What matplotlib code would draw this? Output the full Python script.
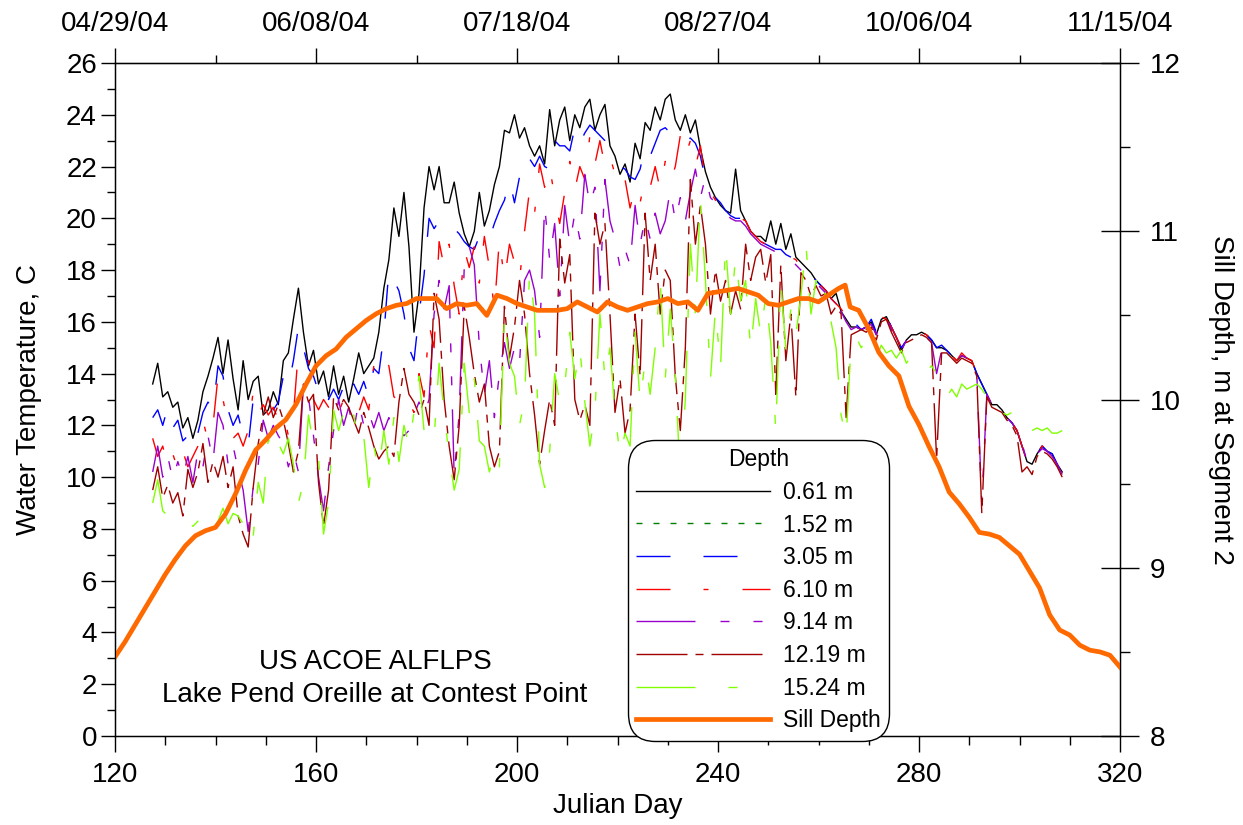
import matplotlib
matplotlib.use("Agg")
import matplotlib.pyplot as plt
import numpy as np
from matplotlib.ticker import MultipleLocator, FixedLocator

# ---------------- data ----------------
day_start = 127.5  # first sample (Julian day), 1-day spacing

t_061 = [13.6, 14.4, 13.1, 13.3, 12.7, 12.9, 11.9, 12.3, 11.5, 12.2,
         13.3, 13.9, 14.6, 15.4, 14.0, 15.3, 13.8, 12.6, 14.5, 13.0,
         13.7, 13.9, 12.4, 12.6, 13.3, 12.8, 14.5, 14.8, 16.1, 17.3,
         15.6, 14.3, 14.9, 13.6, 14.1, 13.1, 14.3, 13.2, 13.9, 12.9,
         13.8, 14.8, 14.0, 14.3, 14.6, 15.6, 17.3, 18.4, 20.4, 19.3,
         21.0, 18.9, 15.6, 17.1, 20.4, 22.0, 21.1, 22.0, 20.6, 20.6,
         21.4, 20.2, 19.4, 18.9, 19.5, 21.0, 19.7, 20.3, 21.3, 22.0,
         23.4, 23.3, 24.0, 23.1, 23.5, 22.8, 22.4, 22.8, 22.1, 24.2,
         22.8, 23.8, 24.3, 23.0, 24.0, 23.5, 24.3, 24.6, 23.4, 24.0,
         24.4, 22.8, 22.4, 21.7, 22.1, 21.4, 22.9, 22.3, 23.7, 23.4,
         24.3, 23.8, 24.6, 24.8, 23.8, 23.4, 24.0, 23.3, 23.8, 22.7,
         21.8, 21.2, 20.8, 20.5, 20.3, 20.2, 21.9, 20.3, 19.9, 19.5,
         19.3, 19.3, 19.1, 19.9, 19.0, 19.8, 18.8, 19.4, 18.5, 18.3,
         18.1, 17.9, 17.6, 17.4, 17.2, 16.9, 17.1, 16.4, 16.1, 15.8,
         15.8, 15.7, 15.8, 16.0, 15.5, 16.1, 16.2, 15.8, 15.4, 14.9,
         15.3, 15.5, 15.5, 15.6, 15.5, 15.3, 15.0, 15.0, 14.9, 14.7,
         14.5, 14.7, 14.6, 14.5, 14.0, 13.6, 13.2, 12.8, 12.8, 12.6,
         12.3, 12.1, 11.8, 11.2, 10.6, 10.5, 10.9, 11.2, 11.0, 10.9,
         10.5, 10.2]

t_152 = []  # no 1.52 m record plotted

t_305 = [12.3, 12.6, 12.0, 12.7, 11.9, 12.2, 11.4, 11.6, 11.1, 11.7,
         12.5, 12.9, 12.6, 14.3, 13.9, 12.6, 12.0, 12.4, 11.6, 11.2,
         13.0, 12.8, 12.7, 12.9, 12.6, 12.9, 13.9, 13.5, 14.5, 15.8,
         15.0, 14.2, 13.9, 13.3, 13.6, 13.0, 13.4, 13.0, 13.5, 13.0,
         13.6, 13.2, 13.7, 13.1, 14.2, 14.0, 15.5, 18.0, 17.6, 17.2,
         16.3, 15.0, 14.5, 16.3, 17.8, 20.0, 19.6, 19.9, 19.7, 19.9,
         19.6, 19.4, 19.1, 18.9, 18.8, 19.3, 19.0, 19.2, 19.8, 20.3,
         20.7, 21.5, 20.6, 21.6, 22.5, 22.3, 22.0, 22.4, 22.0, 21.9,
         23.0, 22.8, 22.8, 22.6, 23.5, 22.9, 23.3, 23.6, 23.4, 23.2,
         23.0, 22.6, 22.4, 22.0, 21.9, 21.6, 21.5, 21.9, 22.8, 22.4,
         22.9, 23.4, 23.5, 23.3, 23.2, 23.4, 23.0, 23.1, 22.9, 22.4,
         21.5, 21.0, 20.8, 20.6, 20.3, 20.1, 20.0, 20.0, 19.9, 19.5,
         19.3, 19.1, 19.0, 18.9, 18.8, 18.8, 18.6, 18.5, 18.4, 18.1,
         18.0, 17.8, 17.6, 17.4, 17.2, 16.9, 16.7, 16.5, 16.2, 15.8,
         15.9, 15.7, 15.8, 16.1, 15.6, 16.2, 16.3, 15.8, 15.4, 15.0,
         15.3, 15.6, 15.5, 15.7, 15.5, 15.3, 15.0, 15.1, 14.9, 14.7,
         14.6, 14.8, 14.6, 14.5, 14.0, 13.6, 13.2, 12.8, 12.8, 12.6,
         12.3, 12.1, 11.8, 11.2, 10.7, 10.5, 10.9, 11.2, 11.0, 10.9,
         10.5, 10.1]

t_610 = [11.5, 10.8, 11.2, 10.4, 10.9, 10.3, 11.0, 10.4, 10.8, 11.2,
         12.2, 11.4, 12.0, 13.9, 13.0, 12.0, 11.5, 11.7, 11.2, 11.8,
         13.3, 12.4, 12.8, 12.4, 12.7, 12.2, 12.5, 11.6, 12.4, 14.9,
         14.6, 14.5, 13.0, 12.6, 13.0, 12.7, 13.1, 12.5, 13.0, 12.8,
         13.0, 12.5, 13.1, 12.6, 14.3, 14.0, 14.6, 14.3, 13.1, 13.0,
         12.6, 12.9, 12.5, 14.0, 13.1, 15.9, 15.0, 19.1, 18.1, 19.0,
         17.4, 16.3, 18.8, 18.1, 18.9, 17.5, 19.3, 18.1, 16.5, 19.2,
         17.6, 19.0, 18.3, 17.6, 19.5, 21.1, 20.2, 22.1, 21.2, 22.0,
         20.8, 19.8, 21.0, 22.2, 21.1, 22.0, 21.5, 23.2, 22.1, 23.0,
         22.0, 22.4, 21.7, 21.1, 21.5, 20.4, 21.2, 20.6, 21.6, 21.2,
         22.0, 21.1, 22.2, 21.4, 22.0, 23.2, 22.4, 23.0, 22.0, 22.8,
         21.4, 21.0, 20.7, 20.5, 20.3, 20.1, 20.0, 20.0, 19.9, 19.5,
         19.3, 19.1, 19.0, 18.9, 18.8, 18.8, 18.6, 18.5, 18.4, 18.1,
         18.0, 17.8, 17.6, 17.4, 17.2, 16.9, 16.7, 16.5, 16.2, 15.8,
         15.8, 15.8, 15.7, 16.0, 15.6, 16.2, 16.1, 15.8, 15.4, 15.0,
         15.3, 15.5, 15.6, 15.6, 15.5, 15.3, 15.0, 15.0, 14.9, 14.7,
         14.5, 14.8, 14.6, 14.5, 14.0, 13.6, 13.2, 12.8, 12.8, 12.6,
         12.3, 12.1, 11.8, 11.2, 10.6, 10.4, 10.9, 11.2, 11.1, 10.9,
         10.6, 10.2]

t_914 = [10.2, 11.2, 10.0, 10.8, 9.9, 10.6, 10.0, 10.8, 9.8, 11.0,
         10.4, 11.6, 10.6, 12.5, 12.0, 10.5, 11.2, 10.3, 9.5, 7.9,
         9.6, 10.5, 12.2, 11.5, 12.0, 11.6, 11.3, 10.4, 11.0, 10.2,
         13.6, 13.1, 11.6, 10.0, 8.7, 10.4, 11.8, 13.0, 12.0, 12.7,
         11.8, 12.9, 12.0, 12.5, 11.9, 12.5, 11.8, 12.3, 11.7, 11.8,
         11.6, 11.8, 12.4, 12.9, 12.4, 13.0, 16.3, 17.6, 16.5, 17.4,
         10.0, 12.5, 18.1, 18.9, 18.2, 15.1, 13.2, 14.5, 12.3, 14.0,
         15.2, 14.2, 15.0, 14.4, 17.6, 18.0, 17.2, 15.4, 20.5, 18.4,
         19.8, 17.0, 20.5, 19.0, 20.2, 19.2, 21.7, 20.5, 21.2, 17.2,
         21.5, 19.9, 19.2, 18.1, 18.8, 18.2, 20.5, 19.0, 20.0, 19.2,
         20.2, 19.4, 19.9, 21.1, 19.9, 20.8, 19.9, 21.0, 21.9, 20.8,
         21.6, 20.8, 20.6, 20.4, 20.2, 20.0, 19.9, 19.9, 19.7, 19.4,
         19.2, 19.0, 18.9, 18.8, 18.7, 18.7, 18.5, 18.4, 18.2, 18.0,
         17.9, 17.7, 17.5, 17.3, 17.1, 16.8, 16.6, 16.4, 16.0, 15.7,
         15.8, 15.7, 15.8, 15.9, 15.5, 16.1, 16.2, 15.7, 15.4, 14.9,
         15.3, 15.5, 15.5, 15.5, 15.4, 15.2, 14.0, 14.9, 14.8, 14.7,
         14.5, 14.7, 14.6, 14.4, 14.0, 9.0, 13.2, 12.8, 12.7, 12.6,
         12.3, 12.1, 11.8, 11.3, 10.6, 10.5, 10.9, 11.1, 11.0, 10.8,
         10.5, 10.1]

t_1219 = [9.5, 10.4, 9.2, 9.7, 9.0, 9.4, 8.5, 10.3, 9.6, 10.2,
          11.3, 9.8, 10.6, 10.0, 10.8, 9.6, 10.4, 8.5, 7.8, 7.3,
          9.6, 11.3, 12.4, 13.1, 12.3, 12.8, 12.2, 11.3, 10.2, 11.0,
          13.6, 12.9, 13.2, 9.8, 8.1, 9.5, 13.1, 12.6, 13.0, 12.7,
          12.2, 11.7, 12.5, 11.9, 11.2, 10.7, 11.0, 11.2, 10.8, 12.9,
          14.2, 13.2, 12.9, 12.4, 13.0, 12.0, 17.1, 16.1, 13.0, 11.2,
          9.9, 12.0, 16.6, 15.4, 14.0, 12.9, 13.6, 11.2, 10.4, 11.0,
          16.6, 14.6, 15.8, 17.6, 16.3, 14.0, 12.4, 10.5, 11.8, 13.0,
          12.0, 19.2, 17.5, 18.6, 13.0, 12.2, 12.8, 12.0, 20.2, 19.0,
          19.8, 16.3, 12.5, 13.8, 11.7, 12.6, 16.3, 13.9, 20.2, 17.6,
          19.0, 16.3, 18.0, 17.6, 13.9, 11.8, 15.0, 21.5, 19.0, 20.5,
          19.0, 16.3, 18.0, 16.8, 17.6, 16.3, 17.2, 16.5, 19.0, 17.6,
          18.5, 18.8, 17.5, 18.6, 13.2, 18.2, 14.5, 16.3, 13.1, 17.9,
          17.6, 17.0, 17.4, 17.0, 17.1, 16.3, 16.6, 16.3, 12.3, 15.5,
          15.6, 15.7, 15.6, 15.8, 15.3, 16.0, 16.1, 15.6, 15.2, 14.8,
          15.2, 15.3, 15.4, 15.5, 15.4, 15.2, 10.7, 14.8, 14.8, 14.6,
          14.4, 14.6, 14.5, 14.4, 13.9, 8.6, 13.1, 12.7, 12.6, 12.5,
          12.2, 12.0, 11.6, 10.2, 10.4, 10.1, 10.8, 11.0, 10.9, 10.7,
          10.4, 10.0]

t_1524 = [9.0, 9.9, 8.7, 8.5, 8.3, 8.3, 8.2, 8.3, 8.1, 8.3,
          8.1, 8.4, 8.0, 8.3, 8.8, 8.2, 8.6, 8.5, 8.2, 7.4,
          7.7, 9.8, 9.0, 11.5, 10.8, 11.3, 10.9, 11.5, 10.5, 9.0,
          9.8, 12.4, 11.2, 10.8, 7.8, 9.0, 12.6, 11.8, 12.5, 11.9,
          12.4, 11.3, 11.6, 9.6, 11.2, 10.3, 11.8, 10.5, 12.3, 10.6,
          12.0, 11.2, 12.5, 13.9, 11.8, 12.0, 11.5, 14.4, 12.5, 10.8,
          9.5, 10.3, 14.4, 12.5, 13.8, 11.4, 11.2, 10.2, 11.0, 10.4,
          16.3, 14.4, 13.9, 12.0, 13.0, 17.9, 16.3, 10.5, 9.6, 11.0,
          14.0, 12.9, 13.5, 15.6, 13.8, 15.0, 12.9, 11.2, 12.5, 16.3,
          13.8, 15.0, 12.5, 10.8, 11.7, 11.2, 15.6, 12.9, 14.5, 13.2,
          15.0, 17.6, 13.8, 16.5, 14.0, 9.9, 13.0, 19.0, 16.3, 20.8,
          17.6, 13.8, 16.5, 14.2, 19.0, 16.3, 18.5, 16.8, 17.6, 14.9,
          16.9, 15.5, 17.0, 15.2, 11.8, 17.6, 14.9, 16.5, 15.5, 17.0,
          19.0, 16.3, 17.6, 16.5, 17.2, 16.0, 15.0, 12.4, 11.5, 15.2,
          15.4, 15.0, 15.3, 15.0, 14.6, 15.1, 14.8, 14.9, 14.6, 14.9,
          14.4, 14.7, 14.4, 14.3, 14.1, 14.3, 14.0, 13.5, 13.1, 13.4,
          13.1, 13.6, 13.4, 13.5, 13.6, 13.4, 13.1, 12.5, 12.6, 12.5,
          12.4, 12.5, 12.3, 11.8, 11.7, 11.8, 11.9, 11.8, 11.9, 11.7,
          11.7, 11.8]

sill_days = [120, 122, 124, 126, 128, 130, 132, 134, 136, 138,
             140, 142, 144, 146, 148, 150, 152, 154, 156, 158,
             160, 162, 164, 166, 168, 170, 172, 174, 176, 178,
             180, 182, 184, 186, 188, 190, 192, 194, 196, 198,
             200, 202, 204, 206, 208, 210, 212, 214, 216, 218,
             220, 222, 224, 226, 228, 230, 232, 234, 236, 238,
             240, 242, 244, 246, 248, 250, 252, 254, 256, 258,
             260, 262, 264, 265.3, 266.3, 268, 270, 272, 274, 276,
             278, 280, 282, 284, 286, 288, 290, 292, 294, 296,
             298, 300, 302, 304, 306, 308, 310, 312, 314, 316,
             318, 320]
sill_depth = [8.47, 8.56, 8.66, 8.76, 8.86, 8.96, 9.05, 9.13, 9.19, 9.22,
              9.24, 9.32, 9.44, 9.58, 9.70, 9.76, 9.83, 9.88, 9.97, 10.09,
              10.20, 10.26, 10.30, 10.37, 10.42, 10.47, 10.51, 10.54, 10.56, 10.57,
              10.60, 10.60, 10.60, 10.54, 10.57, 10.56, 10.57, 10.50, 10.62, 10.60,
              10.57, 10.55, 10.53, 10.53, 10.53, 10.54, 10.58, 10.55, 10.52, 10.58,
              10.55, 10.53, 10.55, 10.57, 10.58, 10.60, 10.57, 10.58, 10.53, 10.63,
              10.64, 10.65, 10.66, 10.64, 10.62, 10.57, 10.56, 10.58, 10.60, 10.60,
              10.58, 10.62, 10.66, 10.68, 10.55, 10.53, 10.42, 10.28, 10.20, 10.14,
              9.96, 9.85, 9.72, 9.60, 9.45, 9.38, 9.30, 9.21, 9.20, 9.18,
              9.13, 9.08, 8.98, 8.88, 8.72, 8.63, 8.60, 8.54, 8.51, 8.50,
              8.48, 8.41]

series_labels = ["0.61 m", "1.52 m", "3.05 m", "6.10 m", "9.14 m", "12.19 m", "15.24 m"]
date_labels = ["04/29/04", "06/08/04", "07/18/04", "08/27/04", "10/06/04", "11/15/04"]

# ---------------- style ----------------
PX = 72.0 / 100.0  # points per pixel at dpi 100
styles = [
    dict(color="black", ls="-"),
    dict(color="#007F00", dashes=(6 * PX, 11 * PX)),
    dict(color="#0000FF", dashes=(34 * PX, 33 * PX)),
    dict(color="#FF0000", dashes=(34 * PX, 33 * PX, 5 * PX, 34 * PX)),
    dict(color="#9900CC", dashes=(59 * PX, 25 * PX, 9 * PX, 24 * PX, 9 * PX, 24 * PX)),
    dict(color="#A00000", dashes=(51 * PX, 8 * PX, 8 * PX, 8 * PX)),
    dict(color="#80FF00", dashes=(59 * PX, 33 * PX, 9 * PX, 33 * PX)),
]
series = [t_061, t_152, t_305, t_610, t_914, t_1219, t_1524]

plt.rcParams["font.family"] = ["Liberation Sans", "DejaVu Sans"]
FS = 20

fig = plt.figure(figsize=(12.43, 8.25), dpi=100)
ax = fig.add_axes([115 / 1243, 89 / 825, 1005 / 1243, 673 / 825])

handles = []
for vals, st, lab in zip(series, styles, series_labels):
    x = day_start + np.arange(len(vals))
    (ln,) = ax.plot(x, vals, lw=1.0, label=lab, **st)
    handles.append(ln)

ax.set_xlim(120, 320)
ax.set_ylim(0, 26)
ax.xaxis.set_major_locator(MultipleLocator(40))
ax.xaxis.set_minor_locator(MultipleLocator(10))
ax.yaxis.set_major_locator(MultipleLocator(2))
ax.yaxis.set_minor_locator(MultipleLocator(1))
ax.tick_params(axis="y", which="major", direction="out", length=10, width=1, labelsize=FS, pad=3)
ax.tick_params(axis="y", which="minor", direction="out", length=6, width=1)
ax.tick_params(axis="x", which="major", direction="out", length=11.5, width=1, labelsize=FS, pad=7)
ax.tick_params(axis="x", which="minor", direction="out", length=6.5, width=1)
ax.set_xlabel("Julian Day", fontsize=FS, labelpad=4)
ax.set_ylabel("Water Temperature, C", fontsize=FS, labelpad=17)

for sp in ax.spines.values():
    sp.set_linewidth(1.0)

ax.text(0.2587, 0.11, "US ACOE ALFLPS", transform=ax.transAxes, ha="center", va="center", fontsize=FS)
ax.text(0.2587, 0.061, "Lake Pend Oreille at Contest Point", transform=ax.transAxes,
        ha="center", va="center", fontsize=FS)

# top date axis
axt = ax.secondary_xaxis("top")
axt.xaxis.set_major_locator(FixedLocator([120, 160, 200, 240, 280, 320]))
axt.xaxis.set_minor_locator(FixedLocator([140, 180, 220, 260, 300]))
axt.set_xticklabels(date_labels, fontsize=FS)
axt.tick_params(axis="x", which="major", direction="out", length=11, width=1, pad=8)
axt.tick_params(axis="x", which="minor", direction="out", length=6, width=1)

# right axis: sill depth
ax2 = ax.twinx()
(sill_ln,) = ax2.plot(sill_days, sill_depth, color="#FF6A00", lw=3.4, label="Sill Depth",
                      solid_joinstyle="round")
ax2.set_ylim(8, 12)
ax2.yaxis.set_major_locator(MultipleLocator(1))
ax2.yaxis.set_minor_locator(MultipleLocator(0.5))
ax2.tick_params(axis="y", which="major", direction="inout", length=27, width=1, labelsize=FS, pad=8)
ax2.tick_params(axis="y", which="minor", direction="out", length=7, width=1)
ax2.set_ylabel("Sill Depth, m at Segment 2", fontsize=FS, rotation=270, labelpad=38)
handles.append(sill_ln)

LFS = 16.5
leg = ax2.legend(handles, series_labels + ["Sill Depth"], loc="upper left",
                 bbox_to_anchor=((628 - 115) / 1005, (736 - 440) / 673), borderaxespad=0,
                 fontsize=LFS, title="Depth", title_fontsize=LFS, handlelength=5.85,
                 labelspacing=0.42, handletextpad=0.57, borderpad=0.36, framealpha=1,
                 edgecolor="black", fancybox=True)
leg.get_frame().set_linewidth(1.0)
leg.get_frame().set_boxstyle("round", pad=0, rounding_size=1.2)

fig.savefig("out.png", dpi=100)
